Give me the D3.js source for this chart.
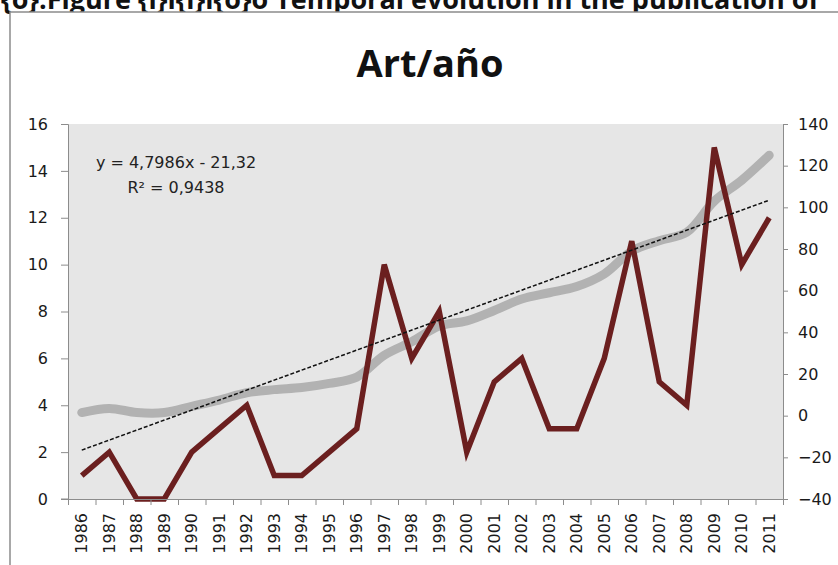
<!DOCTYPE html>
<html>
<head>
<meta charset="utf-8">
<script src="https://cdn.jsdelivr.net/npm/d3@7/dist/d3.min.js"></script>
<style>
  body { margin:0; background:#fff; }
  svg { display:block; }
  .axis text { font-family:"DejaVu Sans", sans-serif; font-size:16px; fill:#1a1a1a; }
  .axis path, .axis line { stroke:#8c8c8c; }
</style>
</head>
<body>
<div id="chart"></div>
<script>
// years on the category axis
let years = ["1986","1987","1988","1989","1990","1991","1992","1993","1994","1995","1996","1997","1998",
             "1999","2000","2001","2002","2003","2004","2005","2006","2007","2008","2009","2010","2011"];
// articles per year (left axis)
let articles = [1,2,0,0,2,3,4,1,1,2,3,10,6,8,2,5,6,3,3,6,11,5,4,15,10,12];
// accumulated articles (right axis, smoothed grey line)
let cumulative = [1.5,3.5,1.5,1.5,4.5,7.5,11,12.5,13.5,15.5,18.5,29,35.5,43,45.5,50.5,56,59,62,68,79,84,88,103,113,125];
// linear trend printed on the chart
let trendSlope = 4.7986, trendIntercept = -21.32;
let trendLabel = "y = 4,7986x - 21,32";
let r2Label = "R\u00B2 = 0,9438";
let leftTicks = [0,2,4,6,8,10,12,14,16];
let rightTicks = [-40,-20,0,20,40,60,80,100,120,140];

let screen = {width:838, height:565};
let plot = {left:68, right:783, top:124, bottom:499};

let svg = d3.select("#chart").append("svg")
    .attr("width", screen.width)
    .attr("height", screen.height);

// page caption cut at the top
svg.append("text")
    .attr("x", 1).attr("y", 9)
    .style("font-family", "'Open Sans', sans-serif")
    .style("font-weight", "bold")
    .style("font-size", "27px")
    .attr("fill", "#111")
    .text("{\u01D2}:Figure {\u01D0}\u01D0{\u01D0}\u01D0{\u01D2}\u01D2 Temporal evolution in the publication of");

// chart frame
svg.append("rect")
    .attr("x", 10).attr("y", 12)
    .attr("width", 850).attr("height", 570)
    .attr("fill", "#fff")
    .attr("stroke", "#8c8c8c")
    .attr("stroke-width", 1.5);

svg.append("text")
    .attr("x", 430).attr("y", 77)
    .attr("text-anchor", "middle")
    .style("font-family", "'Open Sans', sans-serif")
    .style("font-weight", "bold")
    .style("font-size", "38px")
    .attr("fill", "#111")
    .text("Art/a\u00F1o");

let xScale = d3.scaleBand().domain(years).range([plot.left, plot.right]).padding(0);
let xEdges = d3.scaleLinear().domain([0, years.length]).range([plot.left, plot.right]);
let yLeft = d3.scaleLinear().domain([0,16]).range([plot.bottom, plot.top]);
let yRight = d3.scaleLinear().domain([-40,140]).range([plot.bottom, plot.top]);

svg.append("rect")
    .attr("x", plot.left).attr("y", plot.top)
    .attr("width", plot.right - plot.left)
    .attr("height", plot.bottom - plot.top)
    .attr("fill", "#e6e6e6");

let cx = function(d,i){ return xScale(years[i]) + xScale.bandwidth()/2; };

// grey smoothed accumulated line
svg.append("path")
    .datum(cumulative)
    .attr("fill", "none")
    .attr("stroke", "#b2b2b2")
    .attr("stroke-width", 9)
    .attr("stroke-linecap", "round")
    .attr("d", d3.line().x(cx).y(function(d){ return yRight(d); }).curve(d3.curveCatmullRom.alpha(0.5)));

// dark red articles per year
svg.append("path")
    .datum(articles)
    .attr("fill", "none")
    .attr("stroke", "#6b1f1f")
    .attr("stroke-width", 5.5)
    .attr("stroke-linejoin", "miter")
    .attr("d", d3.line().x(cx).y(function(d){ return yLeft(d); }));

// dashed trend line
let trendEnds = [1, years.length];
svg.append("path")
    .datum(trendEnds)
    .attr("fill", "none")
    .attr("stroke", "#111")
    .attr("stroke-width", 1.5)
    .attr("stroke-dasharray", "4,2")
    .attr("d", d3.line()
        .x(function(d){ return cx(null, d-1); })
        .y(function(d){ return yRight(trendSlope*d + trendIntercept); }));

// trend equation
let eq = svg.append("g")
    .style("font-family", "'DejaVu Sans', sans-serif")
    .style("font-size", "16px")
    .attr("fill", "#222");
eq.append("text").attr("x", 176).attr("y", 168).attr("text-anchor", "middle").text(trendLabel);
eq.append("text").attr("x", 176).attr("y", 193).attr("text-anchor", "middle").text(r2Label);

// left axis
svg.append("g")
    .attr("class", "axis")
    .attr("transform", "translate(" + plot.left + ",0)")
    .call(d3.axisLeft(yLeft).tickValues(leftTicks).tickSizeOuter(0).tickSize(7).tickPadding(13));

// right axis
svg.append("g")
    .attr("class", "axis")
    .attr("transform", "translate(" + plot.right + ",0)")
    .call(d3.axisRight(yRight).tickValues(rightTicks).tickSizeOuter(0).tickSize(5).tickPadding(10))
    .select(".domain").attr("stroke", "#d0d0d0");

// bottom axis: ticks between categories
svg.append("g")
    .attr("class", "axis")
    .attr("transform", "translate(0," + plot.bottom + ")")
    .call(d3.axisBottom(xEdges).tickValues(d3.range(0, years.length+1)).tickFormat("").tickSize(6).tickSizeOuter(0));

svg.append("line")
    .attr("x1", plot.left - 7).attr("x2", plot.left)
    .attr("y1", plot.bottom).attr("y2", plot.bottom)
    .attr("stroke", "#8c8c8c");

let xLabels = svg.append("g")
    .attr("class", "axis")
    .attr("transform", "translate(0," + plot.bottom + ")")
    .call(d3.axisBottom(xScale).tickSize(0));
xLabels.select(".domain").remove();
xLabels.selectAll("text")
    .attr("transform", "rotate(-90)")
    .attr("text-anchor", "end")
    .attr("x", -14)
    .attr("y", 0)
    .attr("dy", "0.35em");
</script>
</body>
</html>
